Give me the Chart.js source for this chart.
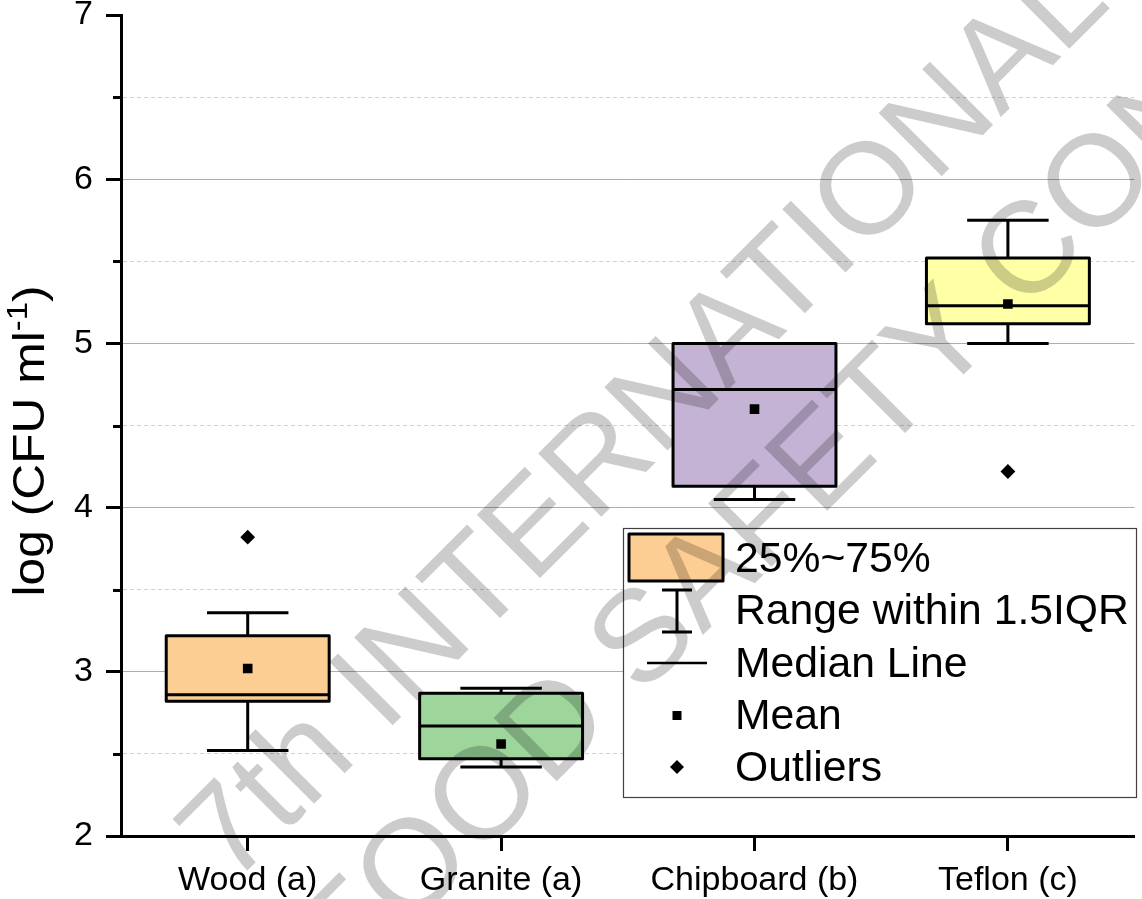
<!DOCTYPE html>
<html>
<head>
<meta charset="utf-8">
<script src="https://cdn.jsdelivr.net/npm/chart.js@4/dist/chart.umd.min.js"></script>
<style>
  html, body { margin: 0; padding: 0; background: #fff; }
  canvas { display: block; }
</style>
</head>
<body>
<canvas id="chart" width="1142" height="899"></canvas>
<script>
// Surface categories and the five-number summaries of log counts
const categories  = ['Wood (a)', 'Granite (a)', 'Chipboard (b)', 'Teflon (c)'];
const whiskerLow  = [2.52, 2.42, 4.05, 5.00];
const q1          = [2.82, 2.47, 4.13, 5.12];
const median      = [2.86, 2.67, 4.72, 5.23];
const q3          = [3.22, 2.87, 5.00, 5.52];
const whiskerHigh = [3.36, 2.90, 5.00, 5.75];
const means       = [3.02, 2.56, 4.60, 5.24];
const outliers    = [3.82, null, null, 4.22];
const yTickLabels = ['2', '3', '4', '5', '6', '7'];
const boxColors   = ['#fdce93', '#9dd59b', '#c5b3d5', '#ffffa6'];

const legendLabels = ['25%~75%', 'Range within 1.5IQR', 'Median Line', 'Mean', 'Outliers'];
const watermarkLines = ['7th INTERNATIONAL', 'FOOD SAFETY CONFERENCE'];

const FONT = '"Liberation Sans", Arial, Helvetica, sans-serif';
const LINE_W = 3;

const isMajor = v => Math.abs(v - Math.round(v)) < 1e-9;

// Whiskers, box outlines and median lines, placed through the scales
const boxDecor = {
  id: 'boxDecor',
  afterDatasetDraw(chart, args) {
    if (args.index !== 0) return;
    const { ctx, scales: { y } } = chart;
    const meta = chart.getDatasetMeta(0);
    ctx.save();
    ctx.strokeStyle = '#000';
    ctx.lineWidth = LINE_W;
    ctx.lineJoin = 'round';
    meta.data.forEach((bar, i) => {
      const x = bar.x, hw = bar.width / 2, cw = hw / 2;
      const yLo = y.getPixelForValue(whiskerLow[i]);
      const yHi = y.getPixelForValue(whiskerHigh[i]);
      const yQ1 = y.getPixelForValue(q1[i]);
      const yQ3 = y.getPixelForValue(q3[i]);
      const yMed = y.getPixelForValue(median[i]);
      ctx.beginPath();
      ctx.moveTo(x, yQ3); ctx.lineTo(x, yHi);
      ctx.moveTo(x - cw, yHi); ctx.lineTo(x + cw, yHi);
      ctx.moveTo(x, yQ1); ctx.lineTo(x, yLo);
      ctx.moveTo(x - cw, yLo); ctx.lineTo(x + cw, yLo);
      ctx.stroke();
      ctx.strokeRect(x - hw, yQ3, 2 * hw, yQ1 - yQ3);
      ctx.beginPath();
      ctx.moveTo(x - hw, yMed); ctx.lineTo(x + hw, yMed);
      ctx.stroke();
    });
    ctx.restore();
  }
};

// Short minor ticks at the half units of the y axis
const minorTicks = {
  id: 'minorTicks',
  afterDraw(chart) {
    const { ctx, chartArea, scales: { y } } = chart;
    ctx.save();
    ctx.strokeStyle = '#000';
    ctx.lineWidth = LINE_W;
    y.ticks.forEach(t => {
      if (isMajor(t.value)) return;
      const py = Math.round(y.getPixelForValue(t.value)) + 0.5;
      ctx.beginPath();
      ctx.moveTo(chartArea.left - 8, py);
      ctx.lineTo(chartArea.left, py);
      ctx.stroke();
    });
    ctx.restore();
  }
};

// Rotated y-axis title with a superscript exponent
const yTitle = {
  id: 'yTitle',
  afterDraw(chart) {
    const { ctx } = chart;
    const main = 'log (CFU ml', sup = '-1', close = ')';
    const big = 44, small = 29, stretch = 1.13;
    ctx.save();
    ctx.fillStyle = '#000';
    ctx.textBaseline = 'alphabetic';
    ctx.font = `${big}px ${FONT}`;
    const wMain = ctx.measureText(main).width;
    const wClose = ctx.measureText(close).width;
    ctx.font = `${small}px ${FONT}`;
    const wSup = ctx.measureText(sup).width;
    const total = wMain + wSup + wClose;
    ctx.translate(44, 441);
    ctx.rotate(-Math.PI / 2);
    ctx.scale(stretch, 1);
    let x = -total / 2;
    ctx.font = `${big}px ${FONT}`;
    ctx.fillText(main, x, 0); x += wMain;
    ctx.font = `${small}px ${FONT}`;
    ctx.fillText(sup, x, -17); x += wSup;
    ctx.font = `${big}px ${FONT}`;
    ctx.fillText(close, x, 0);
    ctx.restore();
  }
};

// Boxed legend describing the box-plot elements
const boxLegend = {
  id: 'boxLegend',
  afterDraw(chart) {
    const { ctx } = chart;
    const L = 623, T = 528, W = 513, H = 269;
    ctx.save();
    ctx.fillStyle = '#fff';
    ctx.fillRect(L, T, W, H);
    ctx.strokeStyle = '#404040';
    ctx.lineWidth = 1.2;
    ctx.strokeRect(L + 0.5, T + 0.5, W, H);

    const sx = 677;
    ctx.lineWidth = LINE_W;
    ctx.strokeStyle = '#000';
    ctx.lineJoin = 'round';
    // box swatch
    ctx.fillStyle = boxColors[0];
    ctx.fillRect(629, 534, 94, 47);
    ctx.strokeRect(629, 534, 94, 47);
    // whisker symbol
    ctx.beginPath();
    ctx.moveTo(sx, 590); ctx.lineTo(sx, 632);
    ctx.moveTo(sx - 15, 590); ctx.lineTo(sx + 15, 590);
    ctx.moveTo(sx - 15, 632); ctx.lineTo(sx + 15, 632);
    ctx.stroke();
    // median symbol
    ctx.lineWidth = 2.4;
    ctx.beginPath();
    ctx.moveTo(647, 663); ctx.lineTo(707, 663);
    ctx.stroke();
    // mean symbol
    ctx.fillStyle = '#000';
    ctx.fillRect(sx - 4.5, 711, 9, 9);
    // outlier symbol
    ctx.beginPath();
    ctx.moveTo(sx, 760); ctx.lineTo(sx + 7, 767); ctx.lineTo(sx, 774); ctx.lineTo(sx - 7, 767);
    ctx.closePath();
    ctx.fill();

    ctx.font = `42.7px ${FONT}`;
    ctx.textBaseline = 'alphabetic';
    const baselines = [572, 624, 677, 729, 781];
    legendLabels.forEach((t, i) => ctx.fillText(t, 735, baselines[i]));
    ctx.restore();
  }
};

// Diagonal conference watermark over the whole figure
const watermark = {
  id: 'watermark',
  afterDraw(chart) {
    const { ctx } = chart;
    const starts = [[231, 887], [350, 988]];
    ctx.save();
    ctx.fillStyle = 'rgba(0,0,0,0.2)';
    ctx.font = `130px ${FONT}`;
    ctx.textBaseline = 'alphabetic';
    watermarkLines.forEach((t, i) => {
      ctx.save();
      ctx.translate(starts[i][0], starts[i][1]);
      ctx.rotate(-Math.PI / 4);
      ctx.fillText(t, 0, 0);
      ctx.restore();
    });
    ctx.restore();
  }
};

new Chart(document.getElementById('chart'), {
  type: 'bar',
  data: {
    labels: categories,
    datasets: [
      {
        label: '25%~75%',
        data: q1.map((v, i) => [v, q3[i]]),
        backgroundColor: boxColors,
        borderWidth: 0,
        barPercentage: 0.643,
        categoryPercentage: 1,
        order: 3
      },
      {
        type: 'line',
        label: 'Mean',
        data: means,
        showLine: false,
        pointStyle: 'rect',
        pointRadius: 6.8,
        pointHoverRadius: 6.8,
        pointBackgroundColor: '#000',
        pointBorderWidth: 0,
        order: 1
      },
      {
        type: 'line',
        label: 'Outliers',
        data: outliers,
        showLine: false,
        pointStyle: 'rectRot',
        pointRadius: 7.4,
        pointHoverRadius: 7.4,
        pointBackgroundColor: '#000',
        pointBorderWidth: 0,
        order: 1
      }
    ]
  },
  options: {
    responsive: false,
    animation: false,
    devicePixelRatio: 1,
    layout: { padding: { top: 15, right: 0, bottom: 0, left: 0 } },
    plugins: {
      legend: { display: false },
      tooltip: { enabled: false }
    },
    scales: {
      x: {
        offset: true,
        grid: {
          display: true,
          drawOnChartArea: false,
          drawTicks: true,
          tickLength: 15,
          tickWidth: LINE_W,
          tickColor: '#000',
          offset: false
        },
        border: { display: true, color: '#000', width: LINE_W },
        ticks: {
          color: '#000',
          font: { family: FONT, size: 34 },
          padding: 9,
          maxRotation: 0,
          autoSkip: false
        },
        afterFit(s) { s.height = 63; s.paddingLeft = 0; s.paddingRight = 0; }
      },
      y: {
        min: 2,
        max: 7,
        grid: {
          drawTicks: true,
          tickLength: 15,
          tickWidth: LINE_W,
          lineWidth: 1,
          color: c => {
            const v = c.tick ? c.tick.value : 0;
            if (v <= 2 || v >= 7) return 'rgba(0,0,0,0)';
            return isMajor(v) ? '#adadad' : '#d2d2d2';
          },
          tickColor: c => (c.tick && isMajor(c.tick.value)) ? '#000' : 'rgba(0,0,0,0)'
        },
        border: {
          display: true,
          color: '#000',
          width: LINE_W,
          dash: c => (c.tick && !isMajor(c.tick.value)) ? [4, 3] : []
        },
        ticks: {
          stepSize: 0.5,
          autoSkip: false,
          color: '#000',
          padding: 13,
          font: { family: FONT, size: 34, lineHeight: 0.8 },
          callback: v => isMajor(v) ? yTickLabels[Math.round(v) - 2] : ''
        },
        afterFit(s) { s.width = 121; s.paddingTop = 0; s.paddingBottom = 0; }
      }
    }
  },
  plugins: [boxDecor, minorTicks, yTitle, boxLegend, watermark]
});
</script>
</body>
</html>
